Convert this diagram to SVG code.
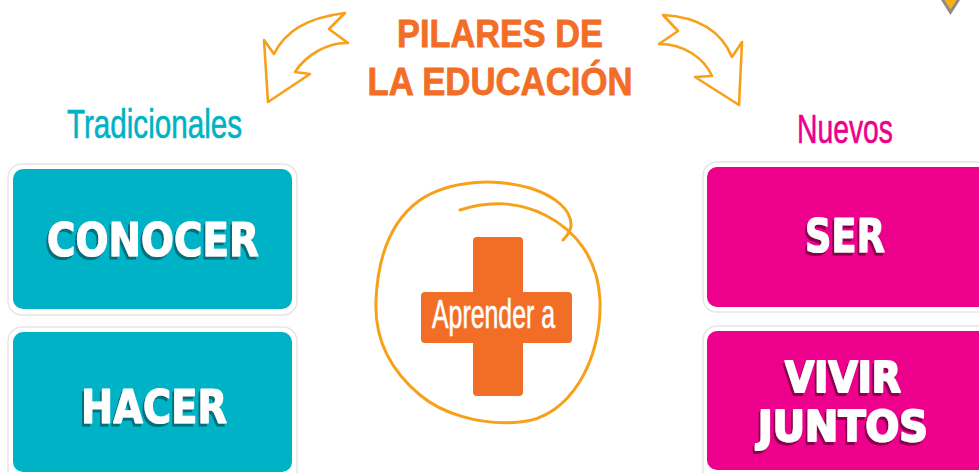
<svg xmlns="http://www.w3.org/2000/svg" width="979" height="473" viewBox="0 0 979 473">
<defs>
<filter id="shT" x="-10%" y="-10%" width="120%" height="130%">
<feDropShadow dx="-2" dy="3" stdDeviation="0" flood-color="#00707c" flood-opacity="1"/>
</filter>
<filter id="shP" x="-10%" y="-10%" width="120%" height="130%">
<feDropShadow dx="-2" dy="3" stdDeviation="0" flood-color="#8a0050" flood-opacity="1"/>
</filter>
</defs>
<style>
.title{font-family:"Liberation Sans",Arial,sans-serif;font-weight:bold;font-size:39px;fill:#f26e27;stroke:#f26e27;stroke-width:0.8;text-anchor:middle}
.hand{font-family:"Liberation Sans",Arial,sans-serif;font-size:40px;stroke-width:0.6}
.outer{fill:#fff;stroke:#e6e6e6;stroke-width:1.5}
.teal{fill:#00b2c5}
.pink{fill:#ec008c}
.big{font-family:"DejaVu Sans",Verdana,sans-serif;font-weight:bold;font-size:46px;text-anchor:middle;fill:#fff;stroke:#fff;stroke-width:1.2;stroke-linejoin:round}
.arrow{fill:none;stroke:#f7a11a;stroke-width:2.6;stroke-linejoin:round;stroke-linecap:round}
</style>
<rect width="979" height="473" fill="#fff"/>
<g id="corner">
<polygon points="941,0 960,0 950.5,15" fill="#8c8c8c"/>
<polygon points="944.5,0 956.5,0 950.5,9.5" fill="#fbb116"/>
</g>
<g id="title">
<text class="title" x="500" y="47" textLength="206" lengthAdjust="spacingAndGlyphs">PILARES DE</text>
<text class="title" x="500" y="95" textLength="265" lengthAdjust="spacingAndGlyphs">LA EDUCACIÓN</text>
</g>
<g id="connectors">
<path class="arrow" d="M345,13 L329,29 L348,43 C328,42 306,55 295,72 L310,74 L268,102 L264,40 L274,54 C285,32 305,18 345,13 Z"/>
<path class="arrow" d="M663,15 L678,31 L659,44 C684,44 704,58 712,76 L695,77 L739,105 L742,42 L732,57 C722,33 700,17 663,15 Z"/>
</g>
<g id="label-tradicionales">
<text class="hand" x="67" y="138" fill="#00b2c5" stroke="#00b2c5" textLength="175" lengthAdjust="spacingAndGlyphs">Tradicionales</text>
</g>
<g id="label-nuevos">
<text class="hand" x="797" y="143" fill="#ec008c" stroke="#ec008c" textLength="96" lengthAdjust="spacingAndGlyphs">Nuevos</text>
</g>
<g id="conocer">
<rect class="outer" x="8" y="164" width="289" height="151" rx="14"/>
<rect class="teal" x="13" y="169" width="279" height="140" rx="10"/>
<text class="big" x="153" y="256" textLength="212" lengthAdjust="spacingAndGlyphs" filter="url(#shT)">CONOCER</text>
</g>
<g id="hacer">
<rect class="outer" x="8" y="327" width="289" height="160" rx="14"/>
<rect class="teal" x="13" y="332" width="279" height="140" rx="10"/>
<text class="big" x="154" y="423" textLength="146" lengthAdjust="spacingAndGlyphs" filter="url(#shT)">HACER</text>
</g>
<g id="ser">
<rect class="outer" x="703" y="162" width="300" height="150" rx="14"/>
<rect class="pink" x="707" y="167" width="296" height="140" rx="10"/>
<text class="big" x="845" y="252" textLength="80" lengthAdjust="spacingAndGlyphs" filter="url(#shP)">SER</text>
</g>
<g id="vivir-juntos">
<rect class="outer" x="703" y="326" width="300" height="160" rx="14"/>
<rect class="pink" x="707" y="331" width="296" height="139" rx="10"/>
<text class="big" font-size="42" style="font-size:42px;stroke-width:2" filter="url(#shP)"><tspan x="843" y="392" textLength="116" lengthAdjust="spacingAndGlyphs">VIVIR</tspan><tspan x="843" y="441" textLength="170" lengthAdjust="spacingAndGlyphs">JUNTOS</tspan></text>
</g>
<g id="aprender">
<path d="M460,210 C490,200 520,202 545,215 C575,230 598,258 600,300 C602,360 570,418 520,422 C478,426 440,412 420,395 C390,370 374,340 376,300 C378,255 392,220 420,200 C450,180 495,178 530,188 C555,196 572,210 571,226 C570,233 566,237 563,240" fill="none" stroke="#f7a11a" stroke-width="3" stroke-linecap="round"/>
<path d="M477,237 L519,237 Q523,237 523,241 L523,292 L568,292 Q572,292 572,296 L572,339 Q572,343 568,343 L523,343 L523,392 Q523,396 519,396 L477,396 Q473,396 473,392 L473,343 L425,343 Q421,343 421,339 L421,296 Q421,292 425,292 L473,292 L473,241 Q473,237 477,237 Z" fill="#f26e27"/>
<text class="hand" x="432" y="328" fill="#fff" stroke="#fff" stroke-width="0.4" font-size="34" textLength="123" lengthAdjust="spacingAndGlyphs">Aprender a</text>
</g>
</svg>
